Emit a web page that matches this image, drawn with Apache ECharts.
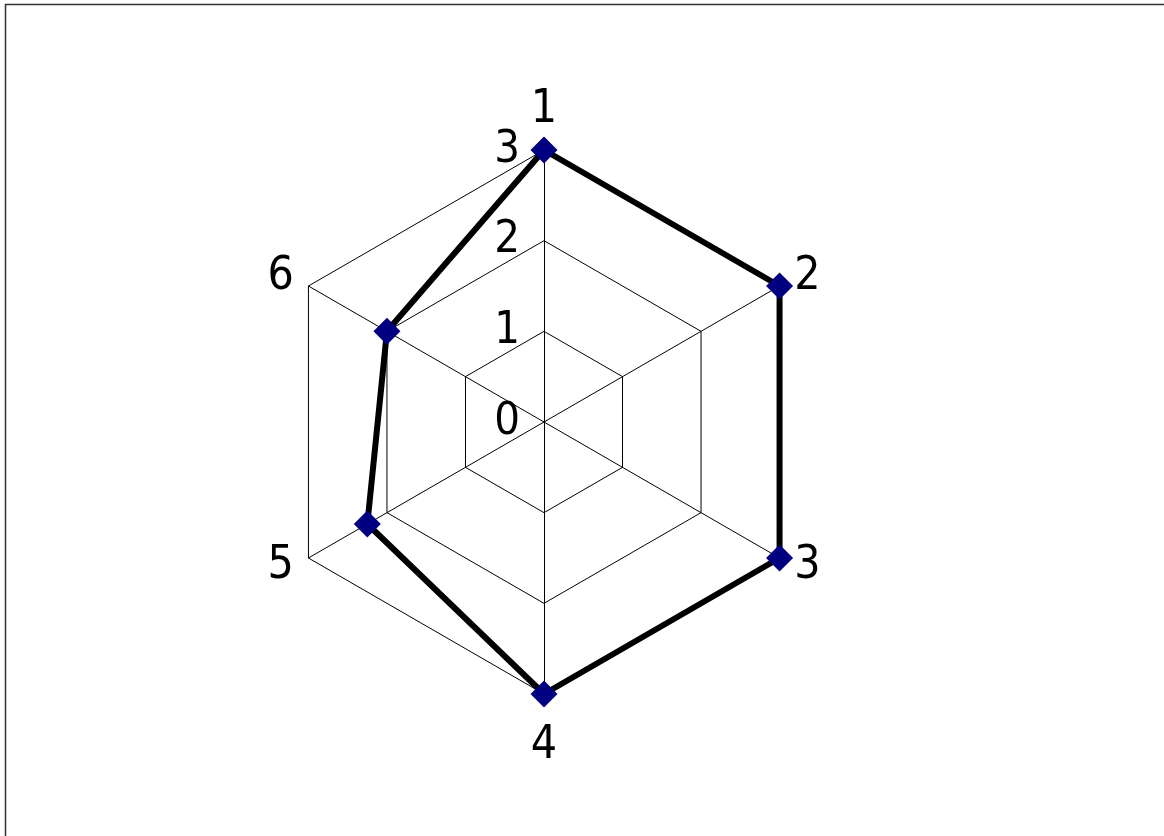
<!DOCTYPE html>
<html>
<head>
<meta charset="utf-8">
<title>radar</title>
<script src="https://cdn.jsdelivr.net/npm/echarts@6/dist/echarts.min.js"></script>
<style>
  html, body { margin: 0; padding: 0; background: #fff; }
  #main { width: 1164px; height: 836px; }
</style>
</head>
<body>
<div id="main"></div>
<script>
// 軸の名前と値（時計回り）
var axisNames = ['1', '2', '3', '4', '5', '6'];
var scoreVals = [3, 3, 3, 3, 2.25, 2];
var axisMax = 3;
var tickCount = 3; // 0,1,2,3

var chart = echarts.init(document.getElementById('main'));

// echarts のレーダーは反時計回りなので、先頭以外を逆順にする
var order = [0].concat(axisNames.slice(1).map(function (n, i) { return axisNames.length - 1 - i; }));

var indicator = order.map(function (idx, i) {
  var item = { name: axisNames[idx], min: 0, max: axisMax };
  // 目盛りラベルは最初の軸だけ
  if (i === 0) {
    item.axisLabel = { show: true };
  }
  return item;
});
var seriesVals = order.map(function (idx) { return scoreVals[idx]; });

var fontName = '"Liberation Sans Narrow", "DejaVu Sans Condensed", "Liberation Sans", sans-serif';

var option = {
  backgroundColor: '#fff',
  animation: false,
  graphic: [{
    type: 'rect',
    shape: { x: 5.5, y: 4.5, width: 1300, height: 1000 },
    style: { fill: 'none', stroke: '#333', lineWidth: 1.5 },
    silent: true
  }],
  radar: {
    center: [544, 422],
    radius: 272,
    startAngle: 90,
    shape: 'polygon',
    splitNumber: tickCount,
    indicator: indicator,
    axisName: {
      color: '#000',
      fontSize: 46,
      fontFamily: fontName,
      padding: [12, 0, 0, 0]
    },
    nameGap: 17,
    axisLine: { lineStyle: { color: '#000', width: 1 } },
    splitLine: { lineStyle: { color: '#000', width: 1 } },
    splitArea: { show: false },
    axisTick: { show: false },
    axisLabel: {
      show: false,
      color: '#000',
      fontSize: 45,
      fontFamily: fontName,
      margin: 24,
      padding: [10, 0, 0, 0]
    }
  },
  series: [{
    type: 'radar',
    symbol: 'diamond',
    symbolSize: 27,
    itemStyle: { color: '#000080' },
    lineStyle: { color: '#000', width: 6 },
    z: 3,
    data: [{ value: seriesVals }]
  }]
};

chart.setOption(option);
</script>
</body>
</html>
